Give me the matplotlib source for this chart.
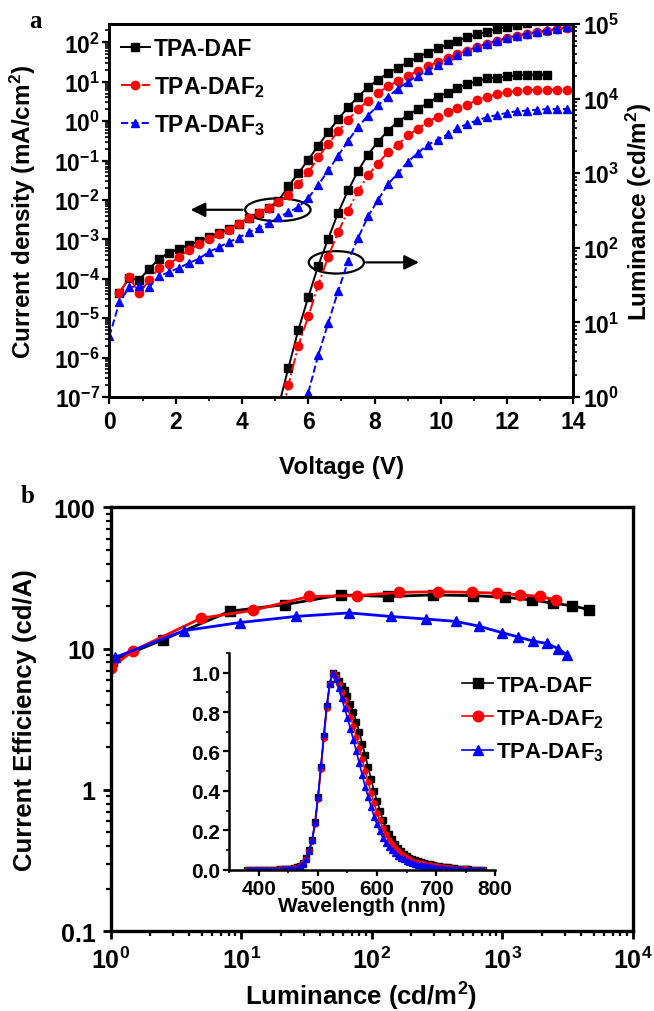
import numpy as np
import matplotlib
matplotlib.use('Agg')
import matplotlib.pyplot as plt
from matplotlib.patches import Ellipse
from matplotlib.ticker import LogLocator, NullFormatter, MultipleLocator, FixedLocator, FixedFormatter

plt.rcParams['font.family'] = ['Liberation Sans', 'DejaVu Sans']
plt.rcParams['font.weight'] = 'bold'
plt.rcParams['mathtext.fontset'] = 'custom'
plt.rcParams['mathtext.rm'] = 'Liberation Sans:bold'
plt.rcParams['mathtext.bf'] = 'Liberation Sans:bold'
plt.rcParams['mathtext.it'] = 'Liberation Sans:bold:italic'
plt.rcParams['mathtext.default'] = 'rm'

# --- panel a: J-V-L ---
voltage = [0.0, 0.3, 0.6, 0.9, 1.2, 1.5, 1.8, 2.1, 2.4, 2.7, 3.0, 3.3, 3.6, 3.9, 4.2, 4.5,
           4.8, 5.1, 5.4, 5.7, 6.0, 6.3, 6.6, 6.9, 7.2, 7.5, 7.8, 8.1, 8.4, 8.7, 9.0, 9.3,
           9.6, 9.9, 10.2, 10.5, 10.8, 11.1, 11.4, 11.7, 12.0, 12.3, 12.6, 12.9, 13.2, 13.5, 13.8]

# log10 of current density (mA/cm2)
logj_daf = [-4.36, -3.98, -4.02, -3.75, -3.49, -3.34, -3.24, -3.14, -3.05, -2.94, -2.85,
            -2.74, -2.60, -2.46, -2.33, -2.20, -2.02, -1.65, -1.32, -0.98, -0.62, -0.28,
            0.05, 0.35, 0.62, 0.86, 1.05, 1.22, 1.36, 1.49, 1.62, 1.74, 1.85, 1.95, 2.04,
            2.13, 2.20, 2.27, 2.34, 2.40, 2.45, 2.50, 2.55, 2.60]          # 0.3 .. 13.2 V
logj_daf2 = [-4.36, -3.96, -4.36, -4.04, -3.72, -3.62, -3.45, -3.27, -3.12, -3.00, -2.87,
             -2.76, -2.60, -2.45, -2.32, -2.20, -2.05, -1.88, -1.60, -1.30, -0.92, -0.58,
             -0.26, 0.04, 0.30, 0.52, 0.72, 0.88, 1.02, 1.15, 1.28, 1.40, 1.50, 1.60, 1.70,
             1.79, 1.89, 1.97, 2.04, 2.11, 2.17, 2.22, 2.26, 2.29, 2.33, 2.37]  # 0.3 .. 13.8 V
logj_daf3 = [-5.46, -4.59, -4.21, -4.19, -4.21, -3.93, -3.83, -3.72, -3.60, -3.49, -3.32,
             -3.20, -3.07, -2.96, -2.82, -2.71, -2.58, -2.44, -2.31, -2.18, -1.95, -1.62,
             -1.25, -0.88, -0.50, -0.15, 0.14, 0.40, 0.62, 0.82, 1.00, 1.15, 1.29, 1.42,
             1.55, 1.67, 1.78, 1.88, 1.97, 2.04, 2.11, 2.17, 2.22, 2.26, 2.30, 2.35, 2.38]  # 0 .. 13.8 V

# log10 of luminance (cd/m2)
logl_daf = [-0.13, 0.39, 0.90, 1.34, 1.76, 2.12, 2.47, 2.77, 3.03, 3.25, 3.42, 3.57, 3.69,
            3.78, 3.86, 3.94, 4.02, 4.08, 4.14, 4.19, 4.24, 4.27, 4.28, 4.30, 4.31, 4.32,
            4.32, 4.32]                                                       # 5.1 .. 13.2 V
logl_daf2 = [-0.45, 0.16, 0.69, 1.08, 1.50, 1.88, 2.21, 2.50, 2.76, 2.97, 3.13, 3.28, 3.38,
             3.51, 3.59, 3.69, 3.76, 3.82, 3.88, 3.92, 3.98, 4.02, 4.06, 4.09, 4.10, 4.11,
             4.12, 4.12, 4.12, 4.12]                                          # 5.1 .. 13.8 V
logl_daf3 = [0.06, 0.56, 0.99, 1.42, 1.82, 2.13, 2.42, 2.64, 2.85, 3.00, 3.15, 3.27, 3.38,
             3.45, 3.52, 3.60, 3.66, 3.71, 3.75, 3.78, 3.81, 3.83, 3.84, 3.85, 3.86, 3.86,
             3.86]                                                            # 6.0 .. 13.8 V

# --- panel b: CE vs luminance ---
lum_daf = [1.02, 2.53, 8.2, 21.6, 58, 134, 295, 597, 1044, 1674, 2423, 3423, 4595]
ce_daf = [8.2, 11.6, 18.4, 20.5, 24.0, 23.4, 24.0, 23.7, 23.1, 22.1, 21.0, 20.1, 18.9]
lum_daf2 = [1.0, 1.49, 4.91, 12.4, 33, 76.6, 162, 322, 581, 903, 1361, 1937, 2570]
ce_daf2 = [7.3, 9.67, 16.4, 18.7, 23.4, 23.7, 25.0, 25.3, 25.0, 24.7, 24.0, 23.4, 22.1]
lum_daf3 = [1.08, 3.64, 9.77, 26.1, 66.8, 139, 259, 438, 664, 985, 1321, 1722, 2180, 2674, 3136]
ce_daf3 = [8.67, 13.4, 15.3, 16.9, 17.9, 16.9, 16.2, 15.6, 14.4, 13.0, 12.1, 11.3, 10.9, 10.0, 9.0]

# --- inset: EL spectra ---
wavelength = [380, 385, 390, 395, 400, 405, 410, 415, 420, 425, 430, 435, 440, 445, 450, 455,
              460, 465, 470, 475, 480, 485, 490, 495, 500, 505, 510, 515, 520, 525, 530, 535,
              540, 545, 550, 555, 560, 565, 570, 575, 580, 585, 590, 595, 600, 605, 610, 615,
              620, 625, 630, 635, 640, 645, 650, 655, 660, 665, 670, 675, 680, 685, 690, 695,
              700, 705, 710, 715, 720, 725, 730, 735, 740, 745, 750, 755, 760, 765, 770, 775, 780]
el_daf = [0, 0, 0, 0, 0, 0, 0, 0, 0, 0, 0, 0.002, 0.003, 0.004, 0.005, 0.006, 0.008,
          0.012, 0.02, 0.035, 0.06, 0.1, 0.15, 0.24, 0.37, 0.52, 0.68, 0.83, 0.94, 1.0, 0.99,
          0.96, 0.93, 0.91, 0.88, 0.84, 0.80, 0.75, 0.70, 0.64, 0.58, 0.52, 0.46, 0.40, 0.35,
          0.30, 0.25, 0.21, 0.18, 0.155, 0.13, 0.11, 0.095, 0.082, 0.07, 0.062, 0.055, 0.049,
          0.043, 0.038, 0.034, 0.03, 0.027, 0.024, 0.021, 0.018, 0.016, 0.014, 0.012, 0.01,
          0.008, 0.006, 0.005, 0.004, 0.003, 0.002, 0.001, 0.001, 0, 0, 0]
el_daf2 = [0, 0, 0, 0, 0, 0, 0, 0, 0, 0, 0, 0.002, 0.003, 0.003, 0.004, 0.005, 0.007,
           0.011, 0.018, 0.032, 0.055, 0.095, 0.145, 0.23, 0.36, 0.51, 0.67, 0.82, 0.94, 1.0,
           0.98, 0.94, 0.90, 0.86, 0.82, 0.775, 0.73, 0.675, 0.62, 0.56, 0.50, 0.445, 0.39,
           0.34, 0.29, 0.25, 0.21, 0.18, 0.15, 0.13, 0.11, 0.095, 0.08, 0.07, 0.06, 0.053,
           0.046, 0.041, 0.036, 0.032, 0.028, 0.025, 0.022, 0.019, 0.017, 0.015, 0.013, 0.011,
           0.009, 0.007, 0.006, 0.005, 0.004, 0.003, 0.002, 0.001, 0.001, 0, 0, 0, 0]
el_daf3 = [0, 0, 0, 0, 0, 0, 0, 0, 0, 0, 0, 0.001, 0.002, 0.003, 0.004, 0.005, 0.006,
           0.01, 0.017, 0.03, 0.055, 0.095, 0.15, 0.24, 0.37, 0.53, 0.69, 0.84, 0.95, 1.0,
           0.97, 0.92, 0.87, 0.82, 0.77, 0.715, 0.66, 0.60, 0.54, 0.48, 0.42, 0.37, 0.32,
           0.27, 0.23, 0.195, 0.16, 0.135, 0.115, 0.098, 0.083, 0.071, 0.06, 0.052, 0.045,
           0.039, 0.034, 0.03, 0.026, 0.023, 0.02, 0.017, 0.015, 0.013, 0.011, 0.009, 0.008,
           0.006, 0.005, 0.004, 0.003, 0.002, 0.002, 0.001, 0.001, 0, 0, 0, 0, 0, 0]

names = ['TPA-DAF', 'TPA-DAF$_2$', 'TPA-DAF$_3$']
colors = ['black', '#ff0000', '#0000ff']
markers = ['s', 'o', '^']
styles = ['-', '-.', '--']

v = np.array(voltage)
fig = plt.figure(figsize=(6.54, 10.12), dpi=100)

# ---------------- panel a ----------------
ax = fig.add_axes([0.1673, 0.6067, 0.7096, 0.3686])
ax2 = ax.twinx()

j_sets = [(v[1:45], logj_daf), (v[1:47], logj_daf2), (v[0:47], logj_daf3)]
l_sets = [(v[17:45], logl_daf), (v[17:47], logl_daf2), (v[20:47], logl_daf3)]
for (vx, lj), (vl, ll), n, c, m, s in zip(j_sets, l_sets, names, colors, markers, styles):
    ax.plot(vx, 10 ** np.array(lj), color=c, ls=s, marker=m, ms=6, lw=1.4, label=n)
    ax2.plot(vl, 10 ** np.array(ll), color=c, ls=s, marker=m, ms=6, lw=1.4)

ax.set_xlim(0, 14)
ax.set_yscale('log')
ax.set_ylim(1e-7, 10 ** 2.465)
ax2.set_yscale('log')
ax2.set_ylim(1, 1e5)
ax.set_yticks([10.0 ** k for k in range(-7, 3)])
ax.yaxis.set_minor_locator(LogLocator(base=10, subs=np.arange(2, 10), numticks=100))
ax.yaxis.set_minor_formatter(NullFormatter())
ax2.set_yticks([10.0 ** k for k in range(0, 6)])
ax2.yaxis.set_minor_locator(LogLocator(base=10, subs=np.arange(2, 10), numticks=100))
ax2.yaxis.set_minor_formatter(NullFormatter())
ax.xaxis.set_major_locator(MultipleLocator(2))
ax.xaxis.set_minor_locator(MultipleLocator(1))

for a in (ax, ax2):
    for sp in a.spines.values():
        sp.set_linewidth(2)
    a.tick_params(which='major', direction='out', length=5, width=1.6, labelsize=16.5, pad=2)
    a.tick_params(which='minor', direction='out', length=3, width=1.2)
ax.tick_params(axis='x', pad=4)
ax.tick_params(axis='y', which='both', right=False)
ax.tick_params(axis='x', which='both', top=False)

ax.set_xlabel('Voltage (V)', fontsize=17.5, fontweight='bold')
ax.set_ylabel('Current density (mA/cm$^2$)', fontsize=17.5, fontweight='bold')
ax2.set_ylabel('Luminance (cd/m$^2$)', fontsize=17.5, fontweight='bold')
ax.xaxis.label.set_va('center')
ax.yaxis.label.set_va('center')
ax2.yaxis.label.set_va('center')
ax.xaxis.set_label_coords(0.5, -0.185)
ax.yaxis.set_label_coords(-0.186, 0.5)
ax2.yaxis.set_label_coords(1.141, 0.5)

ax.legend(loc='upper left', bbox_to_anchor=(0.025, 0.965), frameon=False, fontsize=16.5,
          handlelength=1.25, handletextpad=0.2, labelspacing=0.6, borderpad=0,
          borderaxespad=0, numpoints=1)

# circles and arrows pointing to the axes
ax.add_patch(Ellipse((0.363, 0.502), 0.141, 0.061, transform=ax.transAxes,
                     fill=False, ec='black', lw=1.6))
ax.annotate('', xy=(0.169, 0.502), xytext=(0.293, 0.502), xycoords='axes fraction',
            arrowprops=dict(arrowstyle='-|>', color='black', lw=1.6, mutation_scale=22))
ax.add_patch(Ellipse((0.489, 0.361), 0.119, 0.060, transform=ax.transAxes,
                     fill=False, ec='black', lw=1.6))
ax.annotate('', xy=(0.673, 0.361), xytext=(0.547, 0.361), xycoords='axes fraction',
            arrowprops=dict(arrowstyle='-|>', color='black', lw=1.6, mutation_scale=22))

fig.text(35 / 654, 1 - 22 / 1012, 'a', fontsize=18, fontweight='bold',
         family='Liberation Serif', ha='center', va='center')

# ---------------- panel b ----------------
bx = fig.add_axes([0.1693, 0.0788, 0.7986, 0.4189])
for lx, cy, n, c, m in zip([lum_daf, lum_daf2, lum_daf3], [ce_daf, ce_daf2, ce_daf3],
                           names, colors, markers):
    bx.plot(lx, cy, color=c, marker=m, ms=7.5, lw=2)
bx.set_xscale('log')
bx.set_yscale('log')
bx.set_xlim(1, 1e4)
bx.set_ylim(0.1, 100)
bx.set_xticks([1, 10, 100, 1000, 10000])
bx.xaxis.set_minor_locator(LogLocator(base=10, subs=np.arange(2, 10), numticks=100))
bx.xaxis.set_minor_formatter(NullFormatter())
bx.yaxis.set_major_locator(FixedLocator([0.1, 1, 10, 100]))
bx.yaxis.set_major_formatter(FixedFormatter(['0.1', '1', '10', '100']))
bx.yaxis.set_minor_locator(LogLocator(base=10, subs=np.arange(2, 10), numticks=100))
bx.yaxis.set_minor_formatter(NullFormatter())
for sp in bx.spines.values():
    sp.set_linewidth(2.4)
bx.tick_params(which='major', direction='out', length=6, width=2, labelsize=18, pad=5)
bx.tick_params(which='minor', direction='out', length=3.5, width=1.6)
bx.set_xlabel('Luminance (cd/m$^2$)', fontsize=18.5, fontweight='bold')
bx.set_ylabel('Current Efficiency (cd/A)', fontsize=18.5, fontweight='bold')
bx.xaxis.label.set_va('center')
bx.yaxis.label.set_va('center')
bx.xaxis.set_label_coords(0.48, -0.153)
bx.yaxis.set_label_coords(-0.164, 0.5)

fig.text(28 / 654, 1 - 497 / 1012, 'b', fontsize=18, fontweight='bold',
         family='Liberation Serif', ha='center', va='center')

# ---------------- inset ----------------
ix = fig.add_axes([0.3509, 0.1396, 0.406, 0.2142])
for ey, n, c, m in zip([el_daf, el_daf2, el_daf3], names, colors, markers):
    ix.plot(wavelength, ey, color=c, marker=m, ms=3.8, lw=1.2, label=n)
ix.set_xlim(350, 800)
ix.set_ylim(0, 1.1)
ix.xaxis.set_major_locator(FixedLocator([400, 500, 600, 700, 800]))
ix.xaxis.set_minor_locator(MultipleLocator(50))
ix.yaxis.set_minor_locator(MultipleLocator(0.1))
ix.set_yticks([0, 0.2, 0.4, 0.6, 0.8, 1.0])
ix.set_yticklabels(['0.0', '0.2', '0.4', '0.6', '0.8', '1.0'])
ix.spines['top'].set_visible(False)
ix.spines['right'].set_visible(False)
for sp in ('left', 'bottom'):
    ix.spines[sp].set_linewidth(1.8)
ix.patch.set_alpha(0)
ix.tick_params(which='major', direction='out', length=4.5, width=1.6, labelsize=15, pad=2)
ix.tick_params(which='minor', direction='out', length=2.5, width=1.2)
ix.set_xlabel('Wavelength (nm)', fontsize=15, fontweight='bold')
ix.xaxis.label.set_va('center')
ix.xaxis.set_label_coords(0.5, -0.166)
ix.legend(loc='upper left', bbox_to_anchor=(462 / 654, 1 - 676 / 1012),
          bbox_transform=fig.transFigure, frameon=False, fontsize=16, handlelength=1.4,
          handletextpad=0.15, labelspacing=0.5, borderpad=0, borderaxespad=0,
          numpoints=1, markerscale=2.0)

fig.savefig('out.png', dpi=100)
